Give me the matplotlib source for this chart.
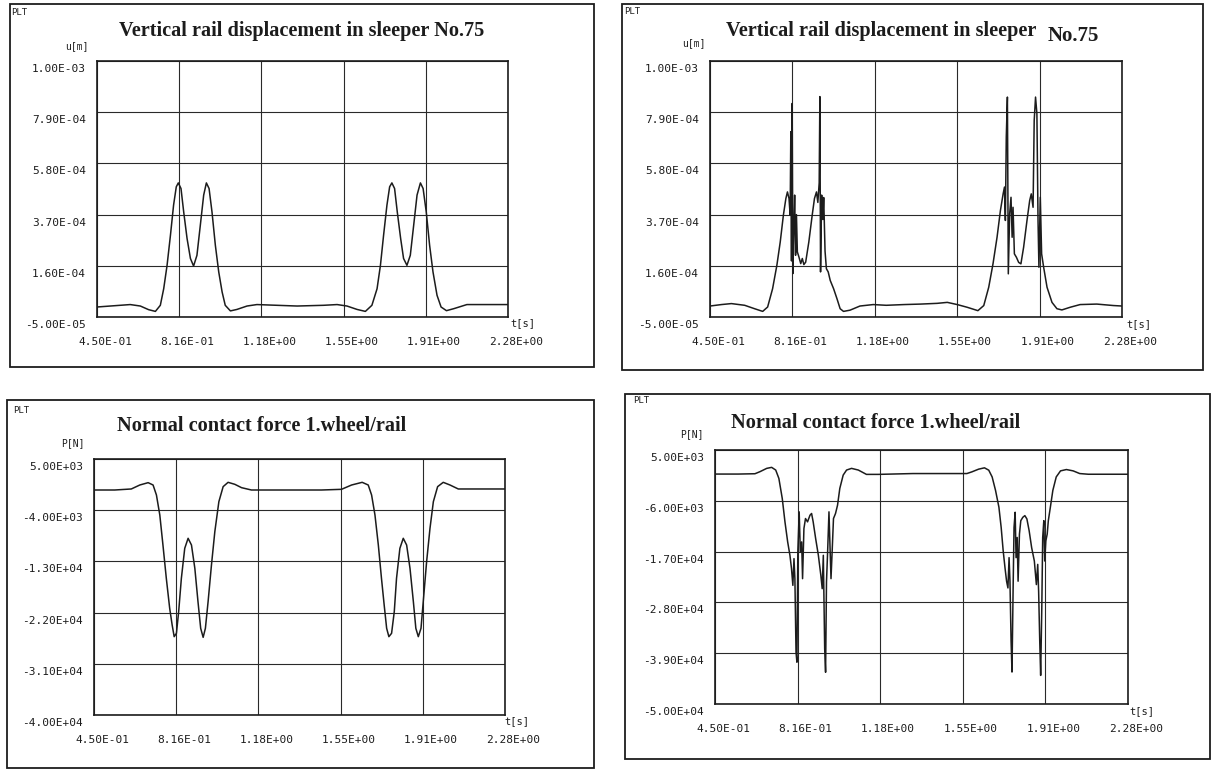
import numpy as np
import matplotlib
matplotlib.use("Agg")
import matplotlib.pyplot as plt
from matplotlib.patches import Rectangle
from matplotlib.transforms import blended_transform_factory, offset_copy

W, H = 1214, 771
MONO = "DejaVu Sans Mono"
SERIF = "Liberation Serif"
INK = "#1c1c1c"

# common time axis
t_ticks = [0.45, 0.816, 1.182, 1.548, 1.914, 2.28]
t_labels = ["4.50E-01", "8.16E-01", "1.18E+00", "1.55E+00", "1.91E+00", "2.28E+00"]

# y axes
u_ticks = [-5e-5, 1.6e-4, 3.7e-4, 5.8e-4, 7.9e-4, 1e-3]
u_labels = ["-5.00E-05", "1.60E-04", "3.70E-04", "5.80E-04", "7.90E-04", "1.00E-03"]
p1_ticks = [-4e4, -3.1e4, -2.2e4, -1.3e4, -4e3, 5e3]
p1_labels = ["-4.00E+04", "-3.10E+04", "-2.20E+04", "-1.30E+04", "-4.00E+03", "5.00E+03"]
p2_ticks = [-5e4, -3.9e4, -2.8e4, -1.7e4, -6e3, 5e3]
p2_labels = ["-5.00E+04", "-3.90E+04", "-2.80E+04", "-1.70E+04", "-6.00E+03", "5.00E+03"]

# top left: displacement, smooth  (u in 1e-4 m)
t_a = [0.450, 0.509, 0.598, 0.643, 0.680, 0.710, 0.732, 0.747, 0.762, 0.777,
       0.791, 0.803, 0.812, 0.824, 0.836, 0.851, 0.866, 0.880, 0.895, 0.910,
       0.925, 0.937, 0.949, 0.962, 0.977, 0.992, 1.007, 1.021, 1.044, 1.073,
       1.118, 1.162, 1.251, 1.341, 1.459, 1.519, 1.563, 1.608, 1.645, 1.674,
       1.697, 1.712, 1.726, 1.741, 1.753, 1.763, 1.775, 1.787, 1.802, 1.815,
       1.830, 1.845, 1.860, 1.875, 1.890, 1.902, 1.916, 1.931, 1.946, 1.964,
       1.982, 2.006, 2.038, 2.097, 2.201, 2.280]
u_a = [-0.09, -0.05, 0.01, -0.05, -0.20, -0.27, -0.02, 0.66, 1.62, 2.85,
       4.09, 4.84, 5.00, 4.77, 3.81, 2.72, 1.90, 1.59, 2.03, 3.26,
       4.50, 5.00, 4.77, 3.81, 2.44, 1.35, 0.53, -0.02, -0.25, -0.19,
       -0.05, 0.01, -0.02, -0.05, -0.02, 0.01, -0.05, -0.19, -0.27, -0.02,
       0.66, 1.62, 2.85, 4.09, 4.84, 5.00, 4.77, 3.81, 2.72, 1.90,
       1.62, 2.03, 3.26, 4.50, 5.00, 4.77, 3.81, 2.44, 1.35, 0.39,
       -0.09, -0.24, -0.16, 0.01, 0.01, 0.01]

# top right: displacement with spikes (u in 1e-4 m)
t_b = [0.450, 0.501, 0.545, 0.604, 0.648, 0.684, 0.706, 0.728, 0.747, 0.762,
       0.776, 0.787, 0.794, 0.801, 0.806, 0.809, 0.812, 0.815, 0.818, 0.822,
       0.826, 0.830, 0.834, 0.838, 0.845, 0.853, 0.860, 0.867, 0.875, 0.889,
       0.904, 0.914, 0.923, 0.929, 0.935, 0.938, 0.941, 0.946, 0.951, 0.955,
       0.961, 0.967, 0.975, 0.984, 0.999, 1.014, 1.028, 1.043, 1.072, 1.116,
       1.175, 1.233, 1.312, 1.386, 1.459, 1.504, 1.548, 1.592, 1.640, 1.666,
       1.688, 1.707, 1.725, 1.740, 1.752, 1.758, 1.762, 1.766, 1.771, 1.775,
       1.781, 1.787, 1.792, 1.796, 1.802, 1.811, 1.821, 1.831, 1.843, 1.858,
       1.870, 1.877, 1.885, 1.890, 1.896, 1.902, 1.907, 1.911, 1.917, 1.923,
       1.932, 1.947, 1.969, 1.991, 2.013, 2.050, 2.094, 2.168, 2.242, 2.280]
u_b = [-0.05, 0.01, 0.05, -0.02, -0.16, -0.27, -0.09, 0.66, 1.62, 2.58,
       3.68, 4.36, 4.63, 4.36, 3.68, 7.10, 1.80, 8.26, 1.28, 3.00,
       4.50, 2.03, 3.70, 2.17, 1.96, 1.69, 1.90, 1.65, 1.75, 2.58,
       3.68, 4.36, 4.63, 4.20, 5.00, 8.54, 1.35, 4.50, 3.50, 4.40,
       2.20, 1.48, 1.35, 1.00, 0.66, 0.25, -0.16, -0.27, -0.22, -0.05,
       0.01, -0.02, 0.01, 0.03, 0.06, 0.10, 0.01, -0.10, -0.24, -0.03,
       0.72, 1.68, 2.77, 3.87, 4.55, 4.83, 3.46, 6.88, 8.52, 1.27,
       3.73, 4.41, 2.77, 4.00, 2.09, 1.95, 1.74, 1.68, 2.36, 3.46,
       4.28, 4.55, 4.00, 7.56, 8.52, 7.84, 3.46, 1.54, 4.41, 2.09,
       1.54, 0.72, 0.10, -0.16, -0.21, -0.10, 0.01, 0.03, -0.03, -0.05]

# bottom left: contact force, smooth (P in kN)
t_c = [0.450, 0.542, 0.616, 0.654, 0.691, 0.713, 0.728, 0.743, 0.757, 0.772,
       0.787, 0.798, 0.807, 0.817, 0.827, 0.839, 0.854, 0.869, 0.884, 0.899,
       0.913, 0.925, 0.936, 0.946, 0.958, 0.973, 0.988, 1.006, 1.025, 1.047,
       1.077, 1.107, 1.151, 1.315, 1.463, 1.552, 1.597, 1.644, 1.671, 1.686,
       1.701, 1.716, 1.730, 1.742, 1.753, 1.763, 1.775, 1.787, 1.797, 1.812,
       1.827, 1.842, 1.857, 1.872, 1.883, 1.894, 1.906, 1.916, 1.931, 1.946,
       1.961, 1.980, 2.005, 2.035, 2.072, 2.280]
p_c = [-0.45, -0.45, -0.27, 0.43, 0.84, 0.43, -1.33, -4.84, -10.12, -15.98,
       -21.25, -24.18, -26.23, -25.64, -21.83, -15.98, -10.70, -8.94, -10.12, -14.22,
       -20.08, -24.76, -26.35, -24.76, -20.08, -13.63, -7.77, -2.50, 0.14, 0.90,
       0.55, -0.04, -0.45, -0.45, -0.45, -0.33, 0.43, 0.90, 0.43, -1.33,
       -4.84, -10.12, -15.98, -20.66, -24.76, -26.23, -25.64, -21.83, -15.98, -10.70,
       -8.94, -10.12, -14.22, -20.08, -24.76, -26.23, -24.76, -20.08, -13.05, -7.19,
       -2.50, 0.14, 0.90, 0.43, -0.27, -0.27]

# bottom right: contact force with spikes (P in kN)
t_d = [0.450, 0.553, 0.627, 0.649, 0.679, 0.701, 0.719, 0.733, 0.748, 0.760,
       0.772, 0.782, 0.789, 0.795, 0.800, 0.804, 0.809, 0.813, 0.817, 0.823,
       0.828, 0.834, 0.838, 0.844, 0.851, 0.860, 0.871, 0.878, 0.885, 0.896,
       0.908, 0.919, 0.925, 0.930, 0.936, 0.940, 0.944, 0.949, 0.955, 0.959,
       0.964, 0.969, 0.975, 0.984, 0.993, 1.003, 1.018, 1.033, 1.055, 1.085,
       1.121, 1.173, 1.327, 1.476, 1.566, 1.588, 1.618, 1.644, 1.663, 1.678,
       1.693, 1.708, 1.718, 1.727, 1.735, 1.742, 1.748, 1.753, 1.757, 1.762,
       1.766, 1.771, 1.775, 1.780, 1.784, 1.789, 1.793, 1.799, 1.805, 1.814,
       1.823, 1.832, 1.842, 1.853, 1.865, 1.874, 1.880, 1.884, 1.889, 1.893,
       1.898, 1.902, 1.907, 1.911, 1.916, 1.922, 1.927, 1.936, 1.947, 1.962,
       1.981, 2.007, 2.037, 2.066, 2.104, 2.280]
p_d = [-0.21, -0.21, -0.14, 0.30, 1.02, 1.24, 0.66, -1.15, -5.49, -10.56,
       -14.90, -17.80, -20.69, -24.31, -18.52, -22.86, -38.78, -40.95, -17.07, -8.39,
       -17.07, -14.90, -22.86, -12.01, -9.84, -10.56, -9.11, -8.75, -10.56, -14.18,
       -17.80, -22.14, -25.03, -17.80, -38.06, -43.13, -23.59, -17.07, -8.39, -14.90,
       -22.86, -17.07, -9.84, -8.75, -6.94, -3.32, -0.43, 0.66, 1.02, 0.66,
       -0.28, -0.28, -0.10, -0.10, -0.10, 0.26, 0.85, 1.14, 0.63, -0.83,
       -3.74, -7.38, -11.76, -16.86, -20.50, -23.41, -24.87, -18.31, -23.41, -36.52,
       -43.08, -24.87, -11.76, -8.48, -18.31, -13.94, -23.41, -13.21, -10.30, -9.57,
       -9.21, -9.93, -12.48, -16.13, -19.04, -24.14, -19.77, -25.60, -36.52, -43.81,
       -29.24, -13.94, -10.30, -19.04, -14.67, -13.21, -10.30, -7.38, -3.74, -0.83,
       0.48, 0.77, 0.48, -0.10, -0.25, -0.25]

fig = plt.figure(figsize=(W / 100, H / 100), dpi=100)


def px_rect(x0, y0, x1, y1):
    return [x0 / W, 1 - y1 / H, (x1 - x0) / W, (y1 - y0) / H]


def ftext(x, y, s, **kw):
    kw.setdefault("ha", "center")
    kw.setdefault("va", "center")
    kw.setdefault("color", INK)
    fig.text(x / W, 1 - y / H, s, **kw)


def panel(frame, box, t, y, yticks, ylabels, unit, unit_xy, plt_xy, ts_xy):
    r = px_rect(*frame)
    fig.add_artist(Rectangle((r[0], r[1]), r[2], r[3], transform=fig.transFigure,
                             fill=False, lw=1.3, ec=INK))
    ax = fig.add_axes(px_rect(*box))
    ax.plot(t, y, color=INK, lw=1.1)
    ax.set_xlim(t_ticks[0], t_ticks[-1])
    ax.set_ylim(yticks[0], yticks[-1])
    ax.set_xticks(t_ticks)
    ax.set_yticks(yticks)
    ax.tick_params(length=0, labelbottom=False, labelleft=False)
    ax.grid(True, color="#2a2a2a", lw=0.8)
    for s in ax.spines.values():
        s.set_linewidth(1.2)
        s.set_color(INK)

    # tick labels sit a little below their grid lines, as in the plotter output
    tr_y = offset_copy(blended_transform_factory(ax.transAxes, ax.transData),
                       fig=fig, x=-11, y=-8, units="dots")
    for v, lab in zip(yticks, ylabels):
        ax.text(0, v, lab, transform=tr_y, ha="right", va="center",
                family=MONO, fontsize=8, color=INK)
    tr_x = offset_copy(blended_transform_factory(ax.transData, ax.transAxes),
                       fig=fig, x=8, y=-25, units="dots")
    for v, lab in zip(t_ticks, t_labels):
        ax.text(v, 0, lab, transform=tr_x, ha="center", va="center",
                family=MONO, fontsize=8, color=INK)

    ftext(*plt_xy, "PLT", family=MONO, fontsize=6.5)
    ftext(*unit_xy, unit, family=MONO, fontsize=7)
    ftext(*ts_xy, "t[s]", family=MONO, fontsize=7.5)
    return ax


u_a = np.array(u_a) * 1e-4
u_b = np.array(u_b) * 1e-4
p_c = np.array(p_c) * 1e3
p_d = np.array(p_d) * 1e3

panel((10, 4, 594, 367), (97, 61, 508, 317), t_a, u_a, u_ticks, u_labels,
      "u[m]", (77, 46), (19.5, 12.5), (523, 323))
ftext(302, 31, "Vertical rail displacement in sleeper No.75",
      family=SERIF, weight="bold", fontsize=14.6)

panel((622, 4, 1203, 370), (710, 61, 1122, 317), t_b, u_b, u_ticks, u_labels,
      "u[m]", (694, 43), (632, 12), (1139, 323.6))
ftext(726, 31, "Vertical rail displacement in sleeper",
      family=SERIF, weight="bold", fontsize=14.6, ha="left")
ftext(1048, 36, "No.75", family=SERIF, weight="bold", fontsize=15, ha="left")

panel((7, 400, 594, 768), (94, 459, 505, 715), t_c, p_c, p1_ticks, p1_labels,
      "P[N]", (73, 443), (21.5, 410.5), (516.6, 720.7))
ftext(261.5, 425.5, "Normal contact force 1.wheel/rail",
      family=SERIF, weight="bold", fontsize=14.6)

panel((625, 394, 1210, 759), (715, 450, 1128, 704), t_d, p_d, p2_ticks, p2_labels,
      "P[N]", (692, 434), (641, 400), (1142, 711))
ftext(876, 423.4, "Normal contact force 1.wheel/rail",
      family=SERIF, weight="bold", fontsize=14.6)

fig.savefig("out.png", dpi=100, facecolor="white")
